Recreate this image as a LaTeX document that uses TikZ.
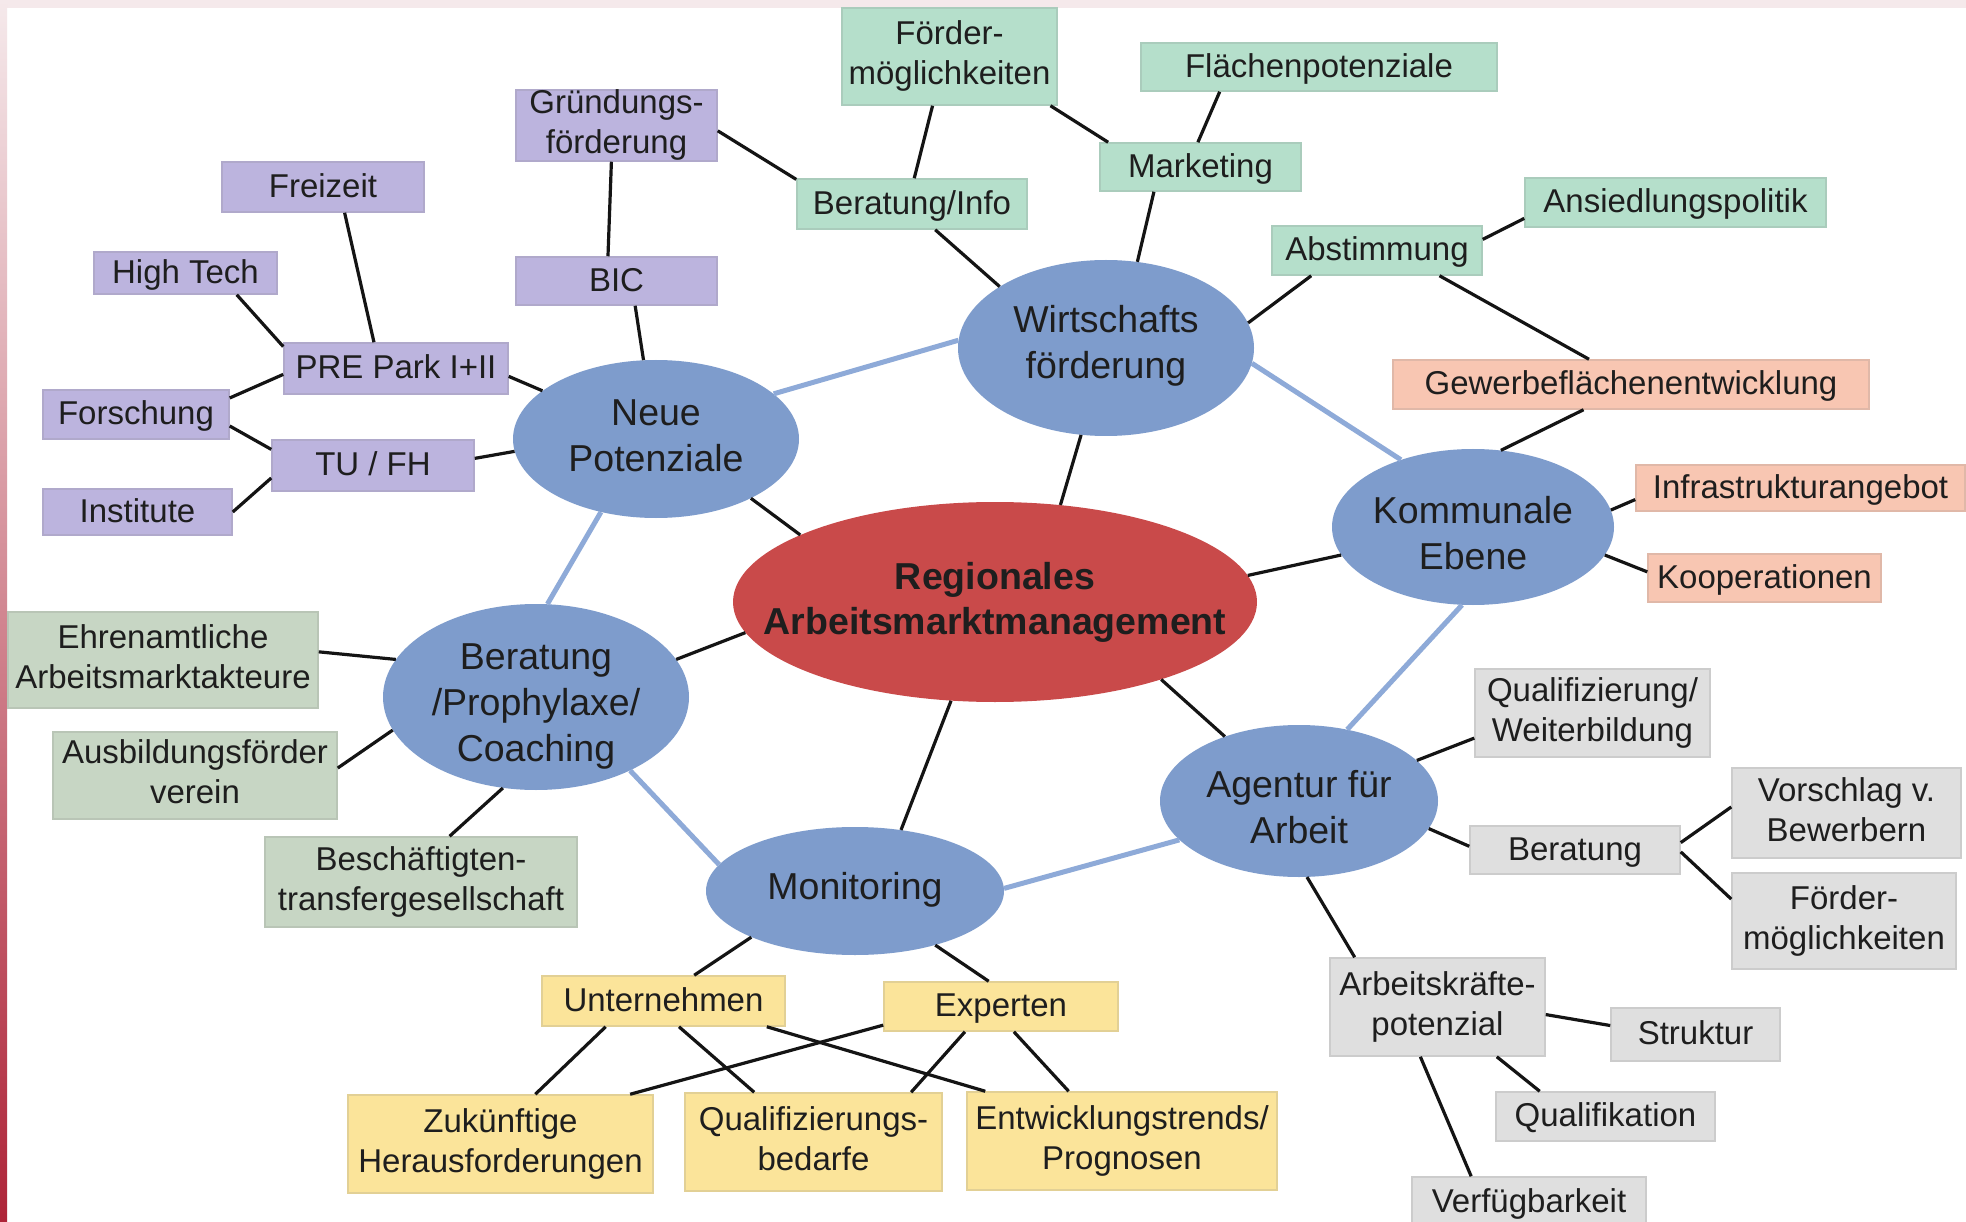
\documentclass[tikz,border=0pt]{standalone}
\usepackage{fontspec}
\setmainfont{Liberation Sans}
\usetikzlibrary{shapes.geometric}
\definecolor{cpurple}{HTML}{BCB4DE}
\definecolor{cmint}{HTML}{B5DFCB}
\definecolor{csalmon}{HTML}{F8C6B2}
\definecolor{cgray}{HTML}{DFDFDF}
\definecolor{csage}{HTML}{C7D6C4}
\definecolor{cyellow}{HTML}{FBE49A}
\definecolor{cblue}{HTML}{7E9CCC}
\definecolor{cred}{HTML}{C94A4A}
\definecolor{clink}{HTML}{8EAAD8}
\definecolor{ctext}{HTML}{1E1E1E}
\definecolor{stripA}{HTML}{F5E9EB}
\definecolor{stripB}{HTML}{AE2438}
\newcommand\boxfnt{\fontsize{33}{40}\selectfont}
\newcommand\ellfnt{\fontsize{37.5}{46}\selectfont}
\newcommand\titlefnt{\fontsize{37.5}{45}\selectfont\bfseries}
\newcommand\mystrut{\rule[-0.212em]{0pt}{1.117em}}
\newcommand\onestrut{\rule[-0.28em]{0pt}{1.13em}}
\tikzset{
  box/.style={rectangle, line width=1.5pt, inner sep=0pt, align=center, font=\boxfnt, text=ctext,
    execute at begin node=\mystrut, execute at end node=\mystrut},
  one/.style={execute at begin node=\onestrut, execute at end node=\onestrut},
  pbox/.style={box, fill=cpurple, draw=cpurple!80!gray},
  mbox/.style={box, fill=cmint, draw=cmint!80!gray},
  sbox/.style={box, fill=csalmon, draw=csalmon!80!gray},
  gbox/.style={box, fill=cgray, draw=cgray!80!gray},
  vbox/.style={box, fill=csage, draw=csage!80!gray},
  ybox/.style={box, fill=cyellow, draw=cyellow!80!gray},
  ell/.style={ellipse, fill=cblue, draw=none, inner sep=0pt},
  lbl/.style={align=center, font=\ellfnt, text=ctext, inner sep=0pt,
    execute at begin node=\mystrut, execute at end node=\mystrut},
  conn/.style={line width=3.2pt, draw=black!92},
  blink/.style={line width=5pt, draw=clink},
}
\begin{document}
\begin{tikzpicture}[x=1pt,y=-1pt]
\useasboundingbox (0,0) rectangle (1966,1222);
\clip (0,0) rectangle (1966,1222);
\fill[white] (0,0) rectangle (1966,1222);
\fill[stripA] (0,0) rectangle (1966,8);
\shade[top color=stripA, bottom color=stripB] (0,0) rectangle (7,1222);

% ellipses
\node[ell, minimum width=296pt, minimum height=176pt, label={[lbl, yshift=2pt]center:{Wirtschafts\\förderung}}] (wirt) at (1106,348) {};
\node[ell, minimum width=286pt, minimum height=158pt, label={[lbl, yshift=-1pt]center:{Neue\\Potenziale}}] (neue) at (656,439) {};
\node[ell, fill=cred, minimum width=524pt, minimum height=200pt, label={[lbl, font=\titlefnt]center:{Regionales\\Arbeitsmarktmanagement}}] (regio) at (995,602) {};
\node[ell, minimum width=282pt, minimum height=156pt, label={[lbl, yshift=-10pt]center:{Kommunale\\Ebene}}] (komm) at (1473,527) {};
\node[ell, minimum width=306pt, minimum height=186pt, label={[lbl, yshift=-10pt]center:{Beratung\\/Prophylaxe/\\Coaching}}] (berat) at (536,697) {};
\node[ell, minimum width=298pt, minimum height=128pt, label={[lbl, yshift=4pt]center:{Monitoring}}] (monit) at (855,891) {};
\node[ell, minimum width=278pt, minimum height=152pt, label={[lbl, yshift=-10pt]center:{Agentur für\\Arbeit}}] (agentur) at (1299,801) {};

% purple
\node[pbox, minimum width=201pt, minimum height=71pt] (grund) at (616.5,125.5) {Gründungs-\\förderung};
\node[pbox, one, minimum width=202pt, minimum height=50pt] (freizeit) at (323,187) {Freizeit};
\node[pbox, one, minimum width=183pt, minimum height=42pt] (hightech) at (185.5,273) {High Tech};
\node[pbox, one, minimum width=201pt, minimum height=48pt] (bic) at (616.5,281) {BIC};
\node[pbox, one, minimum width=224pt, minimum height=51pt] (prepark) at (396,368.5) {PRE Park I+II};
\node[pbox, one, minimum width=186pt, minimum height=49pt] (forschung) at (136,414.5) {Forschung};
\node[pbox, one, minimum width=202pt, minimum height=51pt] (tufh) at (373,465.5) {TU / FH};
\node[pbox, one, minimum width=189pt, minimum height=46pt] (institute) at (137.5,512) {Institute};

% mint
\node[mbox, minimum width=215pt, minimum height=97pt] (foerderA) at (949.5,56.5) {Förder-\\möglichkeiten};
\node[mbox, one, minimum width=356pt, minimum height=48pt] (flaechen) at (1319,67) {Flächenpotenziale};
\node[mbox, one, minimum width=201pt, minimum height=48pt] (marketing) at (1200.5,167) {Marketing};
\node[mbox, one, minimum width=230pt, minimum height=50pt] (berinfo) at (912,204) {Beratung/Info};
\node[mbox, one, minimum width=210pt, minimum height=49pt] (abstimmung) at (1377,250.5) {Abstimmung};
\node[mbox, one, minimum width=301pt, minimum height=49pt] (ansiedlung) at (1675.5,202.5) {Ansiedlungspolitik};

% salmon
\node[sbox, one, minimum width=476pt, minimum height=49pt] (gewerbe) at (1631,384.5) {Gewerbeflächenentwicklung};
\node[sbox, one, minimum width=329pt, minimum height=46pt] (infra) at (1800.5,488) {Infrastrukturangebot};
\node[sbox, one, minimum width=233pt, minimum height=48pt] (koop) at (1764.5,578) {Kooperationen};

% gray
\node[gbox, minimum width=235pt, minimum height=88pt] (qualweiter) at (1592.5,713) {Qualifizierung/\\Weiterbildung};
\node[gbox, one, minimum width=210pt, minimum height=48pt] (beratungB) at (1575,850) {Beratung};
\node[gbox, minimum width=229pt, minimum height=90pt] (vorschlag) at (1846.5,813) {Vorschlag v.\\Bewerbern};
\node[gbox, minimum width=224pt, minimum height=96pt] (foerderB) at (1844,921) {Förder-\\möglichkeiten};
\node[gbox, minimum width=215pt, minimum height=98pt] (arbeitskr) at (1437.5,1007) {Arbeitskräfte-\\potenzial};
\node[gbox, one, minimum width=169pt, minimum height=53pt] (struktur) at (1695.5,1034.5) {Struktur};
\node[gbox, one, minimum width=219pt, minimum height=49pt] (qualifik) at (1605.5,1116.5) {Qualifikation};
\node[gbox, one, minimum width=234pt, minimum height=50pt] (verfueg) at (1529,1202) {Verfügbarkeit};

% sage
\node[vbox, minimum width=310pt, minimum height=96pt] (ehrenamt) at (163,660) {Ehrenamtliche\\Arbeitsmarktakteure};
\node[vbox, minimum width=284pt, minimum height=87pt] (ausbildung) at (195,775.5) {Ausbildungsförder\\verein};
\node[vbox, minimum width=312pt, minimum height=90pt] (beschaeft) at (421,882) {Beschäftigten-\\transfergesellschaft};

% yellow
\node[ybox, one, minimum width=243pt, minimum height=50pt] (unternehmen) at (663.5,1001) {Unternehmen};
\node[ybox, one, minimum width=234pt, minimum height=49pt] (experten) at (1001,1006.5) {Experten};
\node[ybox, minimum width=305pt, minimum height=98pt] (zukunft) at (500.5,1144) {Zukünftige\\Herausforderungen};
\node[ybox, minimum width=257pt, minimum height=98pt] (qualbedarf) at (813.5,1142) {Qualifizierungs-\\bedarfe};
\node[ybox, minimum width=310pt, minimum height=98pt] (entwick) at (1122,1141) {Entwicklungstrends/\\Prognosen};

% black connectors
\draw[conn] (grund.-98.8) -- (bic.109.5);
\draw[conn] (bic.-53.9) -- (neue.99.9);
\draw[conn] (grund.-3.7) -- (berinfo.168);
\draw[conn] (foerderA.-109.8) -- (berinfo.85.4);
\draw[conn] (foerderA.-26.2) -- (marketing.165.1);
\draw[conn] (flaechen.-166.4) -- (marketing.96);
\draw[conn] (berinfo.-48.7) -- (wirt.150.8);
\draw[conn] (marketing.-152.7) -- (wirt.70);
\draw[conn] (abstimmung.-159.3) -- (wirt.10.8);
\draw[conn] (abstimmung.6.8) -- (ansiedlung.-174.1);
\draw[conn] (abstimmung.-22.5) -- (gewerbe.149.7);
\draw[conn] (gewerbe.-152) -- (komm.70.9);
\draw[conn] (komm.7.5) -- (infra.-176.9);
\draw[conn] (komm.-12.4) -- (koop.177.1);
\draw[conn] (komm.-168.6) -- (regio.6.5);
\draw[conn] (wirt.-106) -- (regio.56.9);
\draw[conn] (neue.-32.5) -- (regio.161.8);
\draw[conn] (prepark.-4.3) -- (neue.157.9);
\draw[conn] (tufh.4.2) -- (neue.-175.1);
\draw[conn] (hightech.-23.4) -- (prepark.169.1);
\draw[conn] (freizeit.-50) -- (prepark.130.8);
\draw[conn] (forschung.10.7) -- (prepark.-177.2);
\draw[conn] (forschung.-7) -- (tufh.171.8);
\draw[conn] (institute.0) -- (tufh.-173.6);
\draw[conn] (ehrenamt.3.7) -- (berat.165.9);
\draw[conn] (ausbildung.3) -- (berat.-167.4);
\draw[conn] (beschaeft.58.1) -- (berat.-110.5);
\draw[conn] (berat.15.7) -- (regio.-173.5);
\draw[conn] (monit.53.4) -- (regio.-114.2);
\draw[conn] (agentur.139.8) -- (regio.-25.3);
\draw[conn] (agentur.19.5) -- (qualweiter.-168.6);
\draw[conn] (agentur.-12.8) -- (beratungB.178.4);
\draw[conn] (beratungB.4.3) -- (vorschlag.177);
\draw[conn] (beratungB.-1.6) -- (foerderB.169.4);
\draw[conn] (agentur.-84) -- (arbeitskr.149.7);
\draw[conn] (arbeitskr.-4.8) -- (struktur.174.9);
\draw[conn] (arbeitskr.-40.4) -- (qualifik.159.8);
\draw[conn] (arbeitskr.-109.7) -- (verfueg.156.7);
\draw[conn] (monit.-156.7) -- (unternehmen.40.1);
\draw[conn] (monit.-34) -- (experten.116.1);
\draw[conn] (unternehmen.-156.9) -- (zukunft.55.6);
\draw[conn] (unternehmen.-59.9) -- (qualbedarf.140.5);
\draw[conn] (unternehmen.-14.8) -- (entwick.160.2);
\draw[conn] (experten.-171.5) -- (zukunft.21.5);
\draw[conn] (experten.-145.8) -- (qualbedarf.27.9);
\draw[conn] (experten.-63.9) -- (entwick.137.2);

% blue links
\draw[blink] (neue.21.7) -- (wirt.177.3);
\draw[blink] (wirt.-6.1) -- (komm.137.4);
\draw[blink] (komm.-98.5) -- (agentur.56.7);
\draw[blink] (agentur.-162.3) -- (monit.1.1);
\draw[blink] (monit.169.4) -- (berat.-38.1);
\draw[blink] (berat.83.3) -- (neue.-127.3);
\end{tikzpicture}
\end{document}
